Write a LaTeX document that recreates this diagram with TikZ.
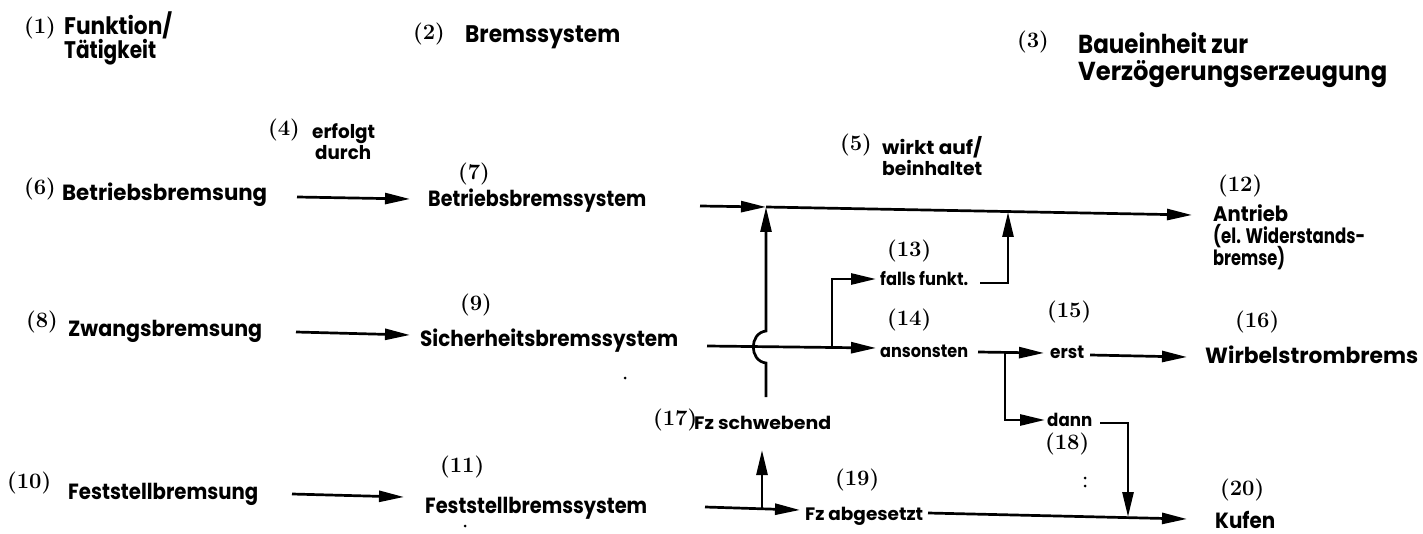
\documentclass[tikz,border=0pt]{standalone}
\usepackage{fontspec}
\usepackage{graphicx}
\newfontfamily\labfont{Poppins}
\usetikzlibrary{arrows.meta}
\newcommand\W[2]{\resizebox{#1pt}{\height}{#2}}
\begin{document}
\begin{tikzpicture}[x=1pt,y=-1pt,
  lab/.style={font={\labfont\bfseries\fontsize{22}{24}\selectfont}, inner sep=0pt, anchor=base west},
  rgt/.style={lab, font={\labfont\bfseries\fontsize{21}{23}\selectfont}},
  sml/.style={lab, font={\labfont\bfseries\fontsize{18}{20}\selectfont}},
  mid/.style={lab, font={\labfont\bfseries\fontsize{19}{21}\selectfont}},
  hdr/.style={lab, font={\labfont\bfseries\fontsize{24}{26}\selectfont}},
  hdrb/.style={lab, font={\labfont\bfseries\fontsize{26}{28}\selectfont}},
  num/.style={font={\bfseries\fontsize{22}{24}\selectfont}, inner sep=0pt, anchor=base west},
  ln/.style={line width=2.7pt},
  arr/.style={ln, -{Triangle[length=25pt,width=11pt]}},
  speck/.style={fill=black, inner sep=0pt, minimum size=3pt, circle}
]
\useasboundingbox (0,0) rectangle (1423,534);
\fill[white] (0,0) rectangle (1423,534);

% headers
\node[num] (n1) at (24,34) {(1)};
\node[hdr] (t1a) at (64,35) {\W{108}{Funktion/}};
\node[hdr] (t1b) at (64,59) {\W{92}{Tätigkeit}};
\node[num] (n2) at (413,40) {(2)};
\node[hdr] (t2) at (465,43) {\W{155}{Bremssystem}};
\node[num] (n3) at (1017,48) {(3)};
\node[hdrb] (t3a) at (1078,54) {\W{170}{Baueinheit zur}};
\node[hdrb] (t3b) at (1078,81) {\W{309}{Verzögerungserzeugung}};

% relation labels
\node[num] (n4) at (268,136) {(4)};
\node[mid] (t4a) at (312,139) {\W{63}{erfolgt}};
\node[mid] (t4b) at (315,160) {\W{56}{durch}};
\node[num] (n5) at (840,151) {(5)};
\node[mid] (t5a) at (882,155) {\W{100}{wirkt auf/}};
\node[mid] (t5b) at (882,176) {\W{100}{beinhaltet}};

% left column
\node[num] (n6) at (24,195) {(6)};
\node[lab] (t6) at (62,201) {\W{205}{Betriebsbremsung}};
\node[num] (n8) at (26,327) {(8)};
\node[lab] (t8) at (68,337) {\W{194}{Zwangsbremsung}};
\node[num] (n10) at (7,488) {(10)};
\node[lab] (t10) at (68,499) {\W{190}{Feststellbremsung}};

% middle column
\node[num] (n7) at (458,180) {(7)};
\node[lab] (t7) at (428,207) {\W{218}{Betriebsbremssystem}};
\node[num] (n9) at (460,311) {(9)};
\node[lab] (t9) at (420,346) {\W{258}{Sicherheitsbremssystem}};
\node[num] (n11) at (440,472) {(11)};
\node[lab] (t11) at (425,513) {\W{222}{Feststellbremssystem}};

% right part
\node[num] (n12) at (1218,192) {(12)};
\node[rgt] (t12a) at (1213,222) {\W{75}{Antrieb}};
\node[rgt] (t12b) at (1213,244) {\W{152}{(el. Widerstands-}};
\node[rgt] (t12c) at (1213,266) {\W{72}{bremse)}};
\node[num] (n13) at (887,257) {(13)};
\node[sml] (t13) at (880,286) {\W{88}{falls funkt.}};
\node[num] (n14) at (887,325) {(14)};
\node[sml] (t14) at (880,357) {\W{88}{ansonsten}};
\node[num] (n15) at (1047,318) {(15)};
\node[sml] (t15) at (1050,358) {\W{34}{erst}};
\node[num] (n16) at (1235,327) {(16)};
\node[lab] (t16) at (1205,363) {\W{213}{Wirbelstrombrems}};
\node[num] (n17) at (653,425) {(17)};
\node[sml] (t17) at (694,429) {\W{137}{Fz schwebend}};
\node[sml] (t18) at (1047,426) {\W{45}{dann}};
\node[num] (n18) at (1045,449) {(18)};
\node[num] (n19) at (835,485) {(19)};
\node[sml] (t19) at (805,520) {\W{118}{Fz abgesetzt}};
\node[num] (n20) at (1220,495) {(20)};
\node[lab] (t20) at (1215,528) {\W{60}{Kufen}};

% specks
\node[speck] (s1) at (1085,478) {};
\node[speck] (s2) at (1085,486) {};
\node[speck] (s3) at (625,378) {};
\node[speck] (s4) at (465,526) {};

% connector points
\coordinate (a6s) at (297,197);  \coordinate (a6e) at (410,199);
\coordinate (a8s) at (296,332);  \coordinate (a8e) at (410,335);
\coordinate (a10s) at (292,494); \coordinate (a10e) at (404,497);
\coordinate (L1s) at (700,206); \coordinate (J1) at (766,207);
\coordinate (J2) at (1008,212); \coordinate (L1e) at (1192,215);
\coordinate (V1b) at (766,397);
\coordinate (L2s) at (707,346); \coordinate (B1) at (832,347); \coordinate (L2e) at (876,348);
\coordinate (F1e) at (876,279); \coordinate (F2s) at (980,283);
\coordinate (A2s) at (978,352); \coordinate (B2) at (1005,352); \coordinate (A2e) at (1044,353);
\coordinate (D1e) at (1045,420);
\coordinate (E2s) at (1090,355); \coordinate (E2e) at (1187,357);
\coordinate (D2s) at (1100,423); \coordinate (K1) at (1128,517);
\coordinate (L3s) at (705,507); \coordinate (J3) at (762,508); \coordinate (L3e) at (800,510);
\coordinate (V2t) at (762,450);
\coordinate (L4s) at (928,513); \coordinate (L4e) at (1187,519);

% connectors
\draw[arr] (a6s) -- (a6e);
\draw[arr] (a8s) -- (a8e);
\draw[arr] (a10s) -- (a10e);
\draw[arr] (L1s) -- (J1);
\draw[arr] (J1) -- (L1e);
\draw[arr] (V1b) -- (766,363) .. controls (749,361) and (749,333) .. (766,331) -- (J1);
\draw[arr] (L2s) -- (L2e);
\draw[arr] (B1) |- (F1e);
\draw[arr] (F2s) -| (J2);
\draw[arr] (A2s) -- (A2e);
\draw[arr] (B2) |- (D1e);
\draw[arr] (E2s) -- (E2e);
\draw[arr] (D2s) -| (K1);
\draw[arr] (L3s) -- (L3e);
\draw[arr] (J3) -- (V2t);
\draw[arr] (L4s) -- (L4e);
\end{tikzpicture}
\end{document}
